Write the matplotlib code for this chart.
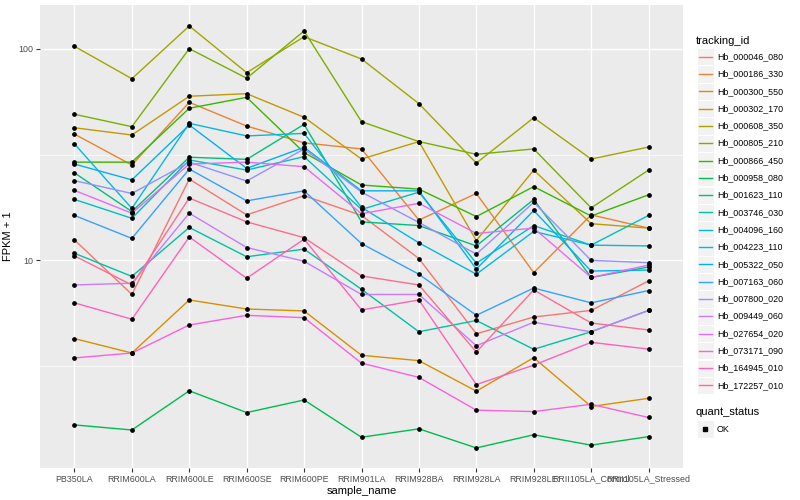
import matplotlib
matplotlib.use("Agg")
import matplotlib.pyplot as plt
from matplotlib.lines import Line2D
from matplotlib.patches import Rectangle
from matplotlib.ticker import FixedLocator, NullFormatter

plt.rcParams['font.family'] = ['Liberation Sans', 'DejaVu Sans']

samples = ["PB350LA", "RRIM600LA", "RRIM600LE", "RRIM600SE", "RRIM600PE",
           "RRIM901LA", "RRIM928BA", "RRIM928LA", "RRIM928LE",
           "RRII105LA_Control", "RRII105LA_Stressed"]

tracking_ids = ["Hb_000046_080", "Hb_000186_330", "Hb_000300_550", "Hb_000302_170",
                "Hb_000608_350", "Hb_000805_210", "Hb_000866_450", "Hb_000958_080",
                "Hb_001623_110", "Hb_003746_030", "Hb_004096_160", "Hb_004223_110",
                "Hb_005322_050", "Hb_007163_060", "Hb_007800_020", "Hb_009449_060",
                "Hb_027654_020", "Hb_073171_090", "Hb_164945_010", "Hb_172257_010"]

# FPKM + 1 values, one list per gene
hb_000046_080 = [12.5, 6.9, 24.2, 16.4, 20.2, 16.3, 10.2, 4.5, 5.4, 5.8, 8.0]
hb_000186_330 = [39.5, 28.2, 55.8, 43.1, 35.9, 33.6, 15.5, 20.7, 8.75, 16.4, 14.2]
hb_000300_550 = [4.27, 3.65, 6.5, 5.89, 5.77, 3.56, 3.36, 2.41, 3.47, 2.04, 2.23]
hb_000302_170 = [42.3, 39.1, 59.6, 61.3, 47.4, 30.1, 36.4, 12.4, 26.7, 14.9, 14.2]
hb_000608_350 = [102.6, 72.1, 128.0, 77.0, 113.9, 89.4, 55.0, 28.8, 47.2, 30.1, 34.3]
hb_000805_210 = [49.0, 42.8, 100.0, 72.5, 121.2, 45.2, 36.4, 31.7, 33.6, 17.7, 26.7]
hb_000866_450 = [29.1, 29.1, 52.3, 58.9, 32.3, 22.7, 21.7, 16.1, 22.3, 16.2, 20.4]
hb_000958_080 = [1.67, 1.58, 2.42, 1.91, 2.19, 1.46, 1.60, 1.30, 1.50, 1.34, 1.47]
hb_001623_110 = [25.9, 17.0, 30.7, 30.0, 43.9, 15.2, 14.6, 11.7, 19.4, 8.3, 9.3]
hb_003746_030 = [10.8, 8.4, 14.3, 10.4, 11.3, 7.3, 4.6, 5.2, 3.8, 4.6, 5.8]
hb_004096_160 = [19.4, 15.8, 29.8, 26.7, 30.9, 17.4, 21.0, 9.7, 14.6, 11.8, 16.3]
hb_004223_110 = [35.5, 17.6, 44.4, 38.7, 39.8, 17.8, 12.1, 8.6, 13.7, 11.8, 11.7]
hb_005322_050 = [28.5, 24.0, 43.6, 27.2, 34.2, 21.3, 21.3, 9.1, 17.2, 8.9, 9.0]
hb_007163_060 = [16.3, 12.7, 27.0, 19.1, 21.3, 12.0, 8.6, 5.5, 7.4, 6.3, 7.2]
hb_007800_020 = [23.8, 20.7, 29.1, 23.7, 33.6, 21.0, 15.1, 10.7, 18.8, 10.0, 9.75]
hb_009449_060 = [7.65, 7.8, 16.7, 11.5, 9.9, 6.9, 6.9, 3.95, 5.1, 4.6, 5.8]
hb_027654_020 = [21.4, 16.7, 28.5, 29.1, 27.7, 16.6, 18.6, 13.4, 14.2, 8.3, 9.5]
hb_073171_090 = [3.46, 3.65, 4.95, 5.5, 5.36, 3.27, 2.8, 1.96, 1.93, 2.09, 1.81]
hb_164945_010 = [6.3, 5.27, 12.9, 8.23, 12.6, 5.83, 6.5, 2.59, 3.2, 4.1, 3.81]
hb_172257_010 = [10.5, 7.65, 19.7, 15.2, 12.8, 8.44, 7.65, 3.69, 7.25, 5.06, 4.69]

series = [hb_000046_080, hb_000186_330, hb_000300_550, hb_000302_170, hb_000608_350,
          hb_000805_210, hb_000866_450, hb_000958_080, hb_001623_110, hb_003746_030,
          hb_004096_160, hb_004223_110, hb_005322_050, hb_007163_060, hb_007800_020,
          hb_009449_060, hb_027654_020, hb_073171_090, hb_164945_010, hb_172257_010]

# ggplot default hue palette for 20 levels
colors = ["#F8766D", "#EA8331", "#D89000", "#C09B00", "#A3A500", "#7CAE00", "#39B600",
          "#00BB4E", "#00BF7D", "#00C1A3", "#00BFC4", "#00BAE0", "#00B0F6", "#35A2FF",
          "#9590FF", "#C77CFF", "#E76BF3", "#FA62DB", "#FF62BC", "#FF6C91"]

W, H = 800, 500
fig = plt.figure(figsize=(8, 5), dpi=100)
ax = fig.add_axes([40 / W, 1 - 468 / H, 643 / W, 463 / H])
ax.set_facecolor("#EBEBEB")

xs = list(range(len(samples)))
for vals, col in zip(series, colors):
    ax.plot(xs, vals, color=col, lw=1.0, zorder=3)
for vals in series:
    ax.plot(xs, vals, linestyle="none", marker="o", ms=2.4, color="black", zorder=4)

ax.set_yscale("log")
ax.set_ylim(1.045, 160.8)
ax.set_xlim(-0.6, len(samples) - 1 + 0.6)

ax.set_yticks([10, 100])
ax.set_yticklabels(["10", "100"])
ax.yaxis.set_minor_locator(FixedLocator([10 ** 0.5, 10 ** 1.5]))
ax.yaxis.set_minor_formatter(NullFormatter())
ax.set_xticks(xs)
ax.set_xticklabels(samples)

ax.tick_params(axis="both", which="major", length=2.75, width=0.8, color="#333333",
               labelsize=6.4, labelcolor="#4D4D4D", pad=2)
ax.tick_params(axis="y", which="minor", length=0)

ax.grid(which="major", color="white", lw=1.0)
ax.grid(which="minor", axis="y", color="white", lw=0.5)
ax.set_axisbelow(True)
for s in ax.spines.values():
    s.set_visible(False)

ax.set_xlabel("sample_name", fontsize=8, labelpad=2)
ax.set_ylabel("FPKM + 1", fontsize=8, labelpad=4)


def fx(x):
    return x / W


def fy(y):
    return 1 - y / H


# legend: tracking_id
fig.text(fx(696), fy(40.5), "tracking_id", fontsize=8, va="center", ha="left")
key_w = 16.5
for i, (name, col) in enumerate(zip(tracking_ids, colors)):
    yc = 56.7 + i * 17.3
    fig.add_artist(Rectangle((fx(697), fy(yc + 8.6)), key_w / W, 17.2 / H,
                             transform=fig.transFigure, facecolor="#F2F2F2",
                             edgecolor="white", lw=0.8))
    fig.add_artist(Line2D([fx(698.5), fx(712)], [fy(yc), fy(yc)],
                          transform=fig.transFigure, color=col, lw=1.0))
    fig.text(fx(717), fy(yc), name, fontsize=6.4, va="center", ha="left")

# legend: quant_status
fig.text(fx(696), fy(412.3), "quant_status", fontsize=8, va="center", ha="left")
fig.add_artist(Rectangle((fx(697), fy(429 + 8.6)), key_w / W, 17.2 / H,
                         transform=fig.transFigure, facecolor="#F2F2F2",
                         edgecolor="white", lw=0.8))
fig.add_artist(Line2D([fx(705.2)], [fy(429)], transform=fig.transFigure,
                      marker="s", ms=2.2, color="black", linestyle="none"))
fig.text(fx(717), fy(429), "OK", fontsize=6.4, va="center", ha="left")

fig.savefig("out.png", dpi=100, facecolor="white")
